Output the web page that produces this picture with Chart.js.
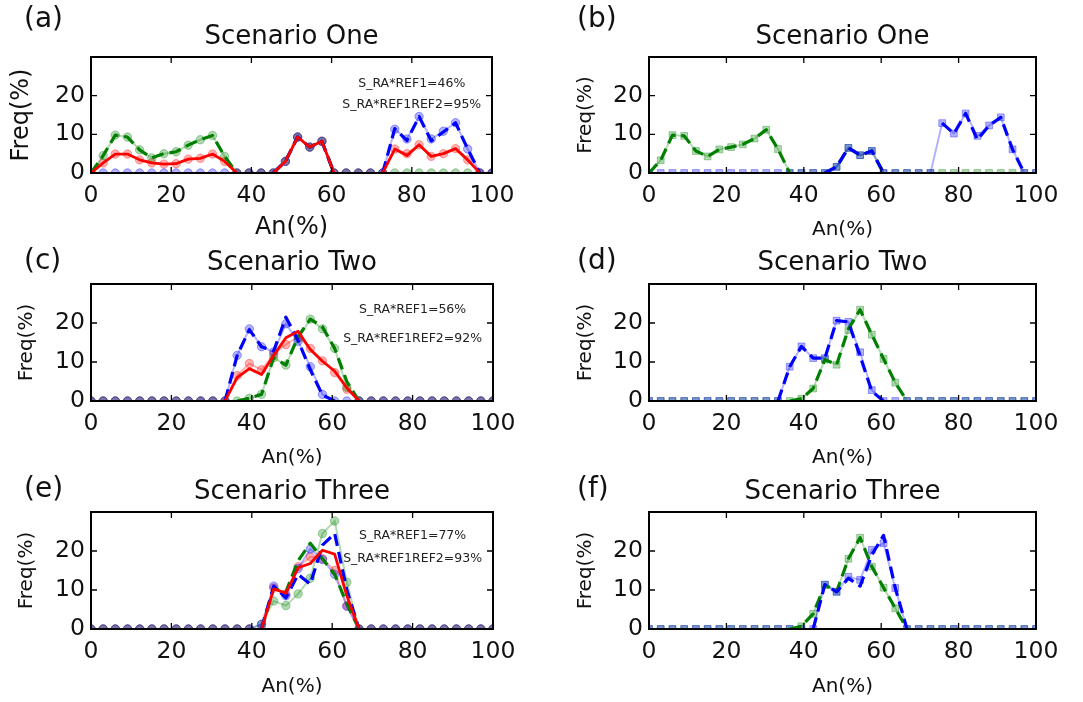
<!DOCTYPE html>
<html>
<head>
<meta charset="utf-8">
<script src="https://cdn.jsdelivr.net/npm/chart.js@4.4.1/dist/chart.umd.min.js"></script>
<style>
    body { margin: 0; background: #fff; }
    #wrap { position: relative; width: 1083px; height: 702px; overflow: hidden; background: #fff; }
    canvas { position: absolute; }
</style>
</head>
<body>
<div id="wrap">
    <canvas id="ca"></canvas>
    <canvas id="cb"></canvas>
    <canvas id="cc"></canvas>
    <canvas id="cd"></canvas>
    <canvas id="ce"></canvas>
    <canvas id="cf"></canvas>
</div>
<script>
// An(%) sample positions, shared by every panel
const xs = [0, 3.03, 6.06, 9.09, 12.12, 15.15, 18.18, 21.21, 24.24, 27.27, 30.3, 33.33,
    36.36, 39.39, 42.42, 45.45, 48.48, 51.52, 54.55, 57.58, 60.61, 63.64, 66.67,
    69.7, 72.73, 75.76, 78.79, 81.82, 84.85, 87.88, 90.91, 93.94, 96.97, 100];
const xTicks = [0, 20, 40, 60, 80, 100];
const yTicks = [0, 10, 20];

// (a) Scenario One
const aGreenLight = [0, 4.5, 9.8, 9.3, 6.0, 3.9, 5.0, 5.5, 7.2, 8.6, 9.7, 4.3,
    0, 0, 0, 0, 3.0, 9.3, 6.7, 8.2, 0, 0, 0,
    0, 0, 0, 0, 0, 0, 0, 0, 0, 0, 0];
const aGreenDark = [0, 4.5, 9.8, 9.3, 6.0, 3.9, 5.0, 5.5, 7.2, 8.6, 9.7, 4.3,
    0, null, null, 0, 3.0, 9.3, 6.7, 8.2, 0, null, null,
    null, null, null, null, null, null, null, null, null, null, null];
const aBlueLight = [0, 0, 0, 0, 0, 0, 0, 0, 0, 0, 0, 0,
    0, 0, 0, 0, 3.0, 9.3, 6.7, 8.2, 0, 0, 0,
    0, 0, 11.3, 8.8, 14.6, 8.8, 10.8, 13.0, 6.2, 0, 0];
const aBlueDark = [null, null, null, null, null, null, null, null, null, null, null, null,
    null, null, null, 0, 3.0, 9.3, 6.7, 8.2, 0, null, null,
    null, 0, 11.5, 8.4, 14.6, 8.3, 10.6, 13.0, 6.2, 0, null];
const aRedLight = [0, 2.6, 4.9, 4.9, 3.4, 2.6, 2.3, 2.4, 3.6, 3.8, 4.9, 3.0,
    0, 0, 0, 0, 3.0, 9.3, 6.7, 8.2, 0, 0, 0,
    0, 0, 6.2, 5.0, 7.3, 4.3, 5.0, 6.3, 3.4, 0, 0];
const aRedDark = [0, 2.6, 4.9, 4.9, 3.4, 2.6, 2.3, 2.4, 3.6, 3.8, 4.9, 3.0,
    0, null, null, 0, 3.0, 9.3, 6.7, 8.2, 0, null, null,
    null, 0, 6.2, 4.5, 7.3, 4.3, 5.0, 6.3, 3.4, 0, null];

// (b) Scenario One
const bGreenLight = [0, 3.3, 9.8, 9.6, 5.7, 4.3, 6.1, 6.7, 7.4, 8.9, 11.2, 6.2,
    0, 0, 0, 0, 1.6, 6.5, 4.6, 5.7, 0, 0, 0,
    0, 0, 0, 0, 0, 0, 0, 0, 0, 0, 0];
const bGreenDark = [0, 3.3, 9.8, 9.6, 5.7, 4.3, 6.1, 6.7, 7.4, 8.9, 11.2, 6.2,
    0, null, null, 0, 1.6, 6.5, 4.6, 5.7, 0, null, null,
    null, null, null, null, null, null, null, null, null, null, null];
const bBlueLight = [0, 0, 0, 0, 0, 0, 0, 0, 0, 0, 0, 0,
    0, 0, 0, 0, 1.6, 6.5, 4.6, 5.7, 0, 0, 0,
    0, 0, 12.9, 10.2, 15.4, 9.6, 12.3, 14.4, 6.1, 0, 0];
const bBlueDark = [null, null, null, null, null, null, null, null, null, null, null, null,
    null, null, null, 0, 1.6, 6.5, 4.6, 5.7, 0, null, null,
    null, null, 12.9, 10.2, 15.4, 8.6, 12.3, 14.4, 6.1, 0, null];

// (c) Scenario Two
const cBlueLight = [0, 0, 0, 0, 0, 0, 0, 0, 0, 0, 0, 0,
    11.7, 18.5, 13.9, 12.6, 19.8, 15.3, 8.8, 1.7, 0, 0, 0,
    0, 0, 0, 0, 0, 0, 0, 0, 0, 0, 0];
const cBlueDark = [null, null, null, null, null, null, null, null, null, null, null, 0,
    11.7, 18.3, 13.9, 12.8, 21.5, 15.5, 8.0, 1.5, 0, null, null,
    null, null, null, null, null, null, null, null, null, null, null];
const cGreenLight = [0, 0, 0, 0, 0, 0, 0, 0, 0, 0, 0, 0,
    0, 0.7, 1.7, 11.1, 9.2, 16.0, 21.0, 18.5, 13.5, 3.5, 0,
    0, 0, 0, 0, 0, 0, 0, 0, 0, 0, 0];
const cGreenDark = [null, null, null, null, null, null, null, null, null, null, null, null,
    0, 0.7, 1.7, 11.1, 9.2, 16.5, 21.0, 19.0, 13.5, 5.0, 0,
    null, null, null, null, null, null, null, null, null, null, null];
const cRedLight = [0, 0, 0, 0, 0, 0, 0, 0, 0, 0, 0, 0,
    6.5, 9.6, 8.0, 12.0, 14.5, 16.5, 13.5, 10.3, 7.3, 3.0, 0,
    0, 0, 0, 0, 0, 0, 0, 0, 0, 0, 0];
const cRedDark = [null, null, null, null, null, null, null, null, null, null, null, 0,
    6.0, 8.3, 6.8, 11.7, 16.2, 17.9, 13.2, 10.2, 7.7, 3.4, 0,
    null, null, null, null, null, null, null, null, null, null, null];

// (d) Scenario Two
const dBlueLight = [0, 0, 0, 0, 0, 0, 0, 0, 0, 0, 0, 0,
    8.8, 14.0, 11.0, 11.0, 20.6, 20.3, 12.5, 2.8, 0, 0, 0,
    0, 0, 0, 0, 0, 0, 0, 0, 0, 0, 0];
const dBlueDark = [null, null, null, null, null, null, null, null, null, null, null, 0,
    8.8, 14.0, 11.0, 11.0, 20.6, 20.3, 11.5, 2.5, 0, null, null,
    null, null, null, null, null, null, null, null, null, null, null];
const dGreenLight = [0, 0, 0, 0, 0, 0, 0, 0, 0, 0, 0, 0,
    0, 0.6, 3.2, 10.6, 9.3, 18.2, 23.4, 17.0, 10.8, 4.7, 0,
    0, 0, 0, 0, 0, 0, 0, 0, 0, 0, 0];
const dGreenDark = [null, null, null, null, null, null, null, null, null, null, null, null,
    0, 0.6, 3.2, 10.6, 9.3, 18.5, 23.4, 17.0, 10.8, 4.7, 0,
    null, null, null, null, null, null, null, null, null, null, null];

// (e) Scenario Three
const eGreenLight = [0, 0, 0, 0, 0, 0, 0, 0, 0, 0, 0, 0,
    0, 0, 1.2, 7.2, 6.0, 9.0, 13.0, 24.5, 27.7, 12.0, 0,
    0, 0, 0, 0, 0, 0, 0, 0, 0, 0, 0];
const eGreenDark = [null, null, null, null, null, null, null, null, null, null, null, null,
    null, null, 0, 10.5, 9.5, 17.5, 22.0, 18.0, 14.0, 6.5, 0,
    null, null, null, null, null, null, null, null, null, null, null];
const eBlueLight = [0, 0, 0, 0, 0, 0, 0, 0, 0, 0, 0, 0,
    0, 0, 1.2, 11.0, 8.5, 15.5, 20.5, 17.8, 14.0, 5.8, 0,
    0, 0, 0, 0, 0, 0, 0, 0, 0, 0, 0];
const eBlueDark = [null, null, null, null, null, null, null, null, null, null, null, null,
    null, null, 0, 11.0, 8.0, 14.0, 11.5, 21.5, 24.5, 10.0, 0,
    null, null, null, null, null, null, null, null, null, null, null];
const eRedLight = [0, 0, 0, 0, 0, 0, 0, 0, 0, 0, 0, 0,
    0, 0, 0, 10.5, 9.0, 16.0, 18.5, 18.0, 15.0, 6.0, 0,
    0, 0, 0, 0, 0, 0, 0, 0, 0, 0, 0];
const eRedDark = [null, null, null, null, null, null, null, null, null, null, null, null,
    null, null, 0, 10.3, 9.2, 15.7, 16.8, 20.2, 19.2, 8.5, 0,
    null, null, null, null, null, null, null, null, null, null, null];

// (f) Scenario Three
const fGreenLight = [0, 0, 0, 0, 0, 0, 0, 0, 0, 0, 0, 0,
    0, 0.7, 3.9, 11.3, 9.6, 18.0, 23.4, 16.0, 10.6, 5.3, 0,
    0, 0, 0, 0, 0, 0, 0, 0, 0, 0, 0];
const fGreenDark = [null, null, null, null, null, null, null, null, null, null, null, null,
    0, 0.7, 3.9, 11.3, 9.6, 18.0, 23.4, 16.0, 10.6, 5.3, 0,
    null, null, null, null, null, null, null, null, null, null, null];
const fBlueLight = [0, 0, 0, 0, 0, 0, 0, 0, 0, 0, 0, 0,
    0, 0, 0, 11.4, 9.5, 13.4, 12.6, 20.3, 22.0, 10.5, 0,
    0, 0, 0, 0, 0, 0, 0, 0, 0, 0, 0];
const fBlueDark = [null, null, null, null, null, null, null, null, null, null, null, null,
    null, null, 0, 11.4, 9.5, 13.0, 11.0, 19.0, 24.0, 10.5, 0,
    null, null, null, null, null, null, null, null, null, null, null];

const FONT = "'DejaVu Sans', sans-serif";
const BLUE = [0, 0, 255];
const GREEN = [0, 128, 0];
const RED = [255, 0, 0];
const rgba = (c, a) => 'rgba(' + c.join(',') + ',' + a + ')';

// faint line + markers
function light(data, c, style) {
    return {
        data: data,
        borderColor: rgba(c, 0.3),
        borderWidth: 2,
        pointStyle: style,
        pointRadius: style === 'rect' ? 4.8 : 4.2,
        pointBackgroundColor: rgba(c, 0.3),
        pointBorderColor: rgba(c, 0.35),
        pointBorderWidth: 1,
        clip: 0,
        order: 3
    };
}

// strong dashed (or solid) line, no markers
function dark(data, c, dashed) {
    return {
        data: data,
        borderColor: rgba(c, 1),
        borderWidth: dashed ? 3.2 : 2.8,
        borderDash: dashed ? [12, 6] : [],
        borderJoinStyle: 'round',
        pointRadius: 0,
        clip: 0,
        order: dashed ? 2 : 1
    };
}

const TICK_SIZE = 23.5;
const TITLE_SIZE = 26;

const panels = [
    { id: 'ca', letter: '(a)', title: 'Scenario One', x: 0, y: 0, w: 545, h: 246,
      plot: [91, 57, 492, 173], titleY: 37, letterX: 24, letterY: 20,
      xTitleY: 228, yTitleX: 22, axisSize: 24,
      notes: [['S_RA*REF1=46%', 23], ['S_RA*REF1REF2=95%', 17.6]],
      sets: [light(aBlueLight, BLUE, 'circle'), light(aGreenLight, GREEN, 'circle'), light(aRedLight, RED, 'circle'),
             dark(aBlueDark, BLUE, true), dark(aGreenDark, GREEN, true), dark(aRedDark, RED, false)] },
    { id: 'cb', letter: '(b)', title: 'Scenario One', x: 545, y: 0, w: 538, h: 246,
      plot: [649, 57, 1036, 173], titleY: 37, letterX: 577, letterY: 20,
      xTitleY: 230, yTitleX: 586, axisSize: 20, notes: [],
      sets: [light(bBlueLight, BLUE, 'rect'), light(bGreenLight, GREEN, 'rect'),
             dark(bBlueDark, BLUE, true), dark(bGreenDark, GREEN, true)] },
    { id: 'cc', letter: '(c)', title: 'Scenario Two', x: 0, y: 240, w: 545, h: 236,
      plot: [91, 284, 493, 401], titleY: 263, letterX: 24, letterY: 262,
      xTitleY: 458, yTitleX: 27, axisSize: 20,
      notes: [['S_RA*REF1=56%', 23.5], ['S_RA*REF1REF2=92%', 16]],
      sets: [light(cBlueLight, BLUE, 'circle'), light(cGreenLight, GREEN, 'circle'), light(cRedLight, RED, 'circle'),
             dark(cBlueDark, BLUE, true), dark(cGreenDark, GREEN, true), dark(cRedDark, RED, false)] },
    { id: 'cd', letter: '(d)', title: 'Scenario Two', x: 545, y: 240, w: 538, h: 236,
      plot: [649, 284, 1036, 401], titleY: 263, letterX: 577, letterY: 262,
      xTitleY: 458, yTitleX: 586, axisSize: 20, notes: [],
      sets: [light(dBlueLight, BLUE, 'rect'), light(dGreenLight, GREEN, 'rect'),
             dark(dBlueDark, BLUE, true), dark(dGreenDark, GREEN, true)] },
    { id: 'ce', letter: '(e)', title: 'Scenario Three', x: 0, y: 468, w: 545, h: 234,
      plot: [91, 512, 493, 629], titleY: 492, letterX: 24, letterY: 490,
      xTitleY: 687, yTitleX: 27, axisSize: 20,
      notes: [['S_RA*REF1=77%', 24], ['S_RA*REF1REF2=93%', 18]],
      sets: [light(eBlueLight, BLUE, 'circle'), light(eGreenLight, GREEN, 'circle'), light(eRedLight, RED, 'circle'),
             dark(eBlueDark, BLUE, true), dark(eGreenDark, GREEN, true), dark(eRedDark, RED, false)] },
    { id: 'cf', letter: '(f)', title: 'Scenario Three', x: 545, y: 468, w: 538, h: 234,
      plot: [649, 512, 1036, 629], titleY: 492, letterX: 577, letterY: 490,
      xTitleY: 687, yTitleX: 586, axisSize: 20, notes: [],
      sets: [light(fBlueLight, BLUE, 'rect'), light(fGreenLight, GREEN, 'rect'),
             dark(fBlueDark, BLUE, true), dark(fGreenDark, GREEN, true)] }
];

// box, inward ticks, panel letter and the note text
const framePlugin = {
    id: 'frame',
    afterDatasetsDraw(chart) {
        const p = chart.options.plugins.frame;
        const { ctx, chartArea: a, scales: { x, y } } = chart;
        ctx.save();
        ctx.strokeStyle = '#000';
        ctx.lineWidth = 1.3;
        ctx.beginPath();
        xTicks.forEach(v => {
            const px = x.getPixelForValue(v);
            ctx.moveTo(px, a.bottom); ctx.lineTo(px, a.bottom - 6);
            ctx.moveTo(px, a.top); ctx.lineTo(px, a.top + 6);
        });
        yTicks.forEach(v => {
            const py = y.getPixelForValue(v);
            ctx.moveTo(a.left, py); ctx.lineTo(a.left + 6, py);
            ctx.moveTo(a.right, py); ctx.lineTo(a.right - 6, py);
        });
        ctx.stroke();
        ctx.lineWidth = 2;
        ctx.strokeRect(a.left, a.top, a.right - a.left, a.bottom - a.top);

        ctx.fillStyle = '#111';
        ctx.textBaseline = 'middle';
        ctx.textAlign = 'left';
        ctx.font = '28px ' + FONT;
        ctx.fillText(p.letter, p.letterX, p.letterY);

        ctx.textAlign = 'center';
        ctx.font = '12.5px ' + FONT;
        ctx.fillStyle = '#222';
        p.notes.forEach(n => {
            ctx.fillText(n[0], x.getPixelForValue(80), y.getPixelForValue(n[1]));
        });
        ctx.restore();
    }
};

panels.forEach(p => {
    const canvas = document.getElementById(p.id);
    canvas.width = p.w;
    canvas.height = p.h;
    canvas.style.left = p.x + 'px';
    canvas.style.top = p.y + 'px';

    const axisLH = p.axisSize * 1.2;

    new Chart(canvas, {
        type: 'line',
        data: { labels: xs, datasets: p.sets },
        options: {
            responsive: false,
            animation: false,
            events: [],
            spanGaps: false,
            layout: {
                autoPadding: false,
                padding: { top: p.titleY - p.y - TITLE_SIZE * 0.6, left: 0, right: p.x + p.w - p.plot[2], bottom: 0 }
            },
            plugins: {
                legend: { display: false },
                tooltip: { enabled: false },
                title: {
                    display: true,
                    text: p.title,
                    fullSize: false,
                    color: '#111',
                    font: { family: FONT, size: TITLE_SIZE, weight: 'normal', lineHeight: 1.2 },
                    padding: { top: 0, bottom: p.plot[1] - p.titleY - TITLE_SIZE * 0.6 }
                },
                frame: { letter: p.letter, letterX: p.letterX - p.x, letterY: p.letterY - p.y, notes: p.notes }
            },
            scales: {
                x: {
                    type: 'linear',
                    min: 0,
                    max: 100,
                    afterBuildTicks: s => { s.ticks = xTicks.map(v => ({ value: v })); },
                    afterFit: s => { s.height = p.y + p.h - p.plot[3]; s.paddingLeft = 0; s.paddingRight = 0; },
                    grid: { display: false, drawTicks: false },
                    border: { display: false },
                    ticks: { color: '#111', padding: 9, maxRotation: 0, font: { family: FONT, size: TICK_SIZE } },
                    title: {
                        display: true,
                        text: 'An(%)',
                        color: '#111',
                        font: { family: FONT, size: p.axisSize, lineHeight: 1.2 },
                        padding: { top: 0, bottom: p.y + p.h - p.xTitleY - axisLH / 2 }
                    }
                },
                y: {
                    min: 0,
                    max: 30,
                    afterBuildTicks: s => { s.ticks = yTicks.map(v => ({ value: v })); },
                    afterFit: s => { s.width = p.plot[0] - p.x; s.paddingTop = 0; s.paddingBottom = 0; },
                    grid: { display: false, drawTicks: false },
                    border: { display: false },
                    ticks: { color: '#111', padding: 6, font: { family: FONT, size: TICK_SIZE } },
                    title: {
                        display: true,
                        text: 'Freq(%)',
                        color: '#111',
                        font: { family: FONT, size: p.axisSize, lineHeight: 1.2 },
                        padding: { top: p.yTitleX - p.x - axisLH / 2, bottom: 0 }
                    }
                }
            }
        },
        plugins: [framePlugin]
    });
});
</script>
</body>
</html>
